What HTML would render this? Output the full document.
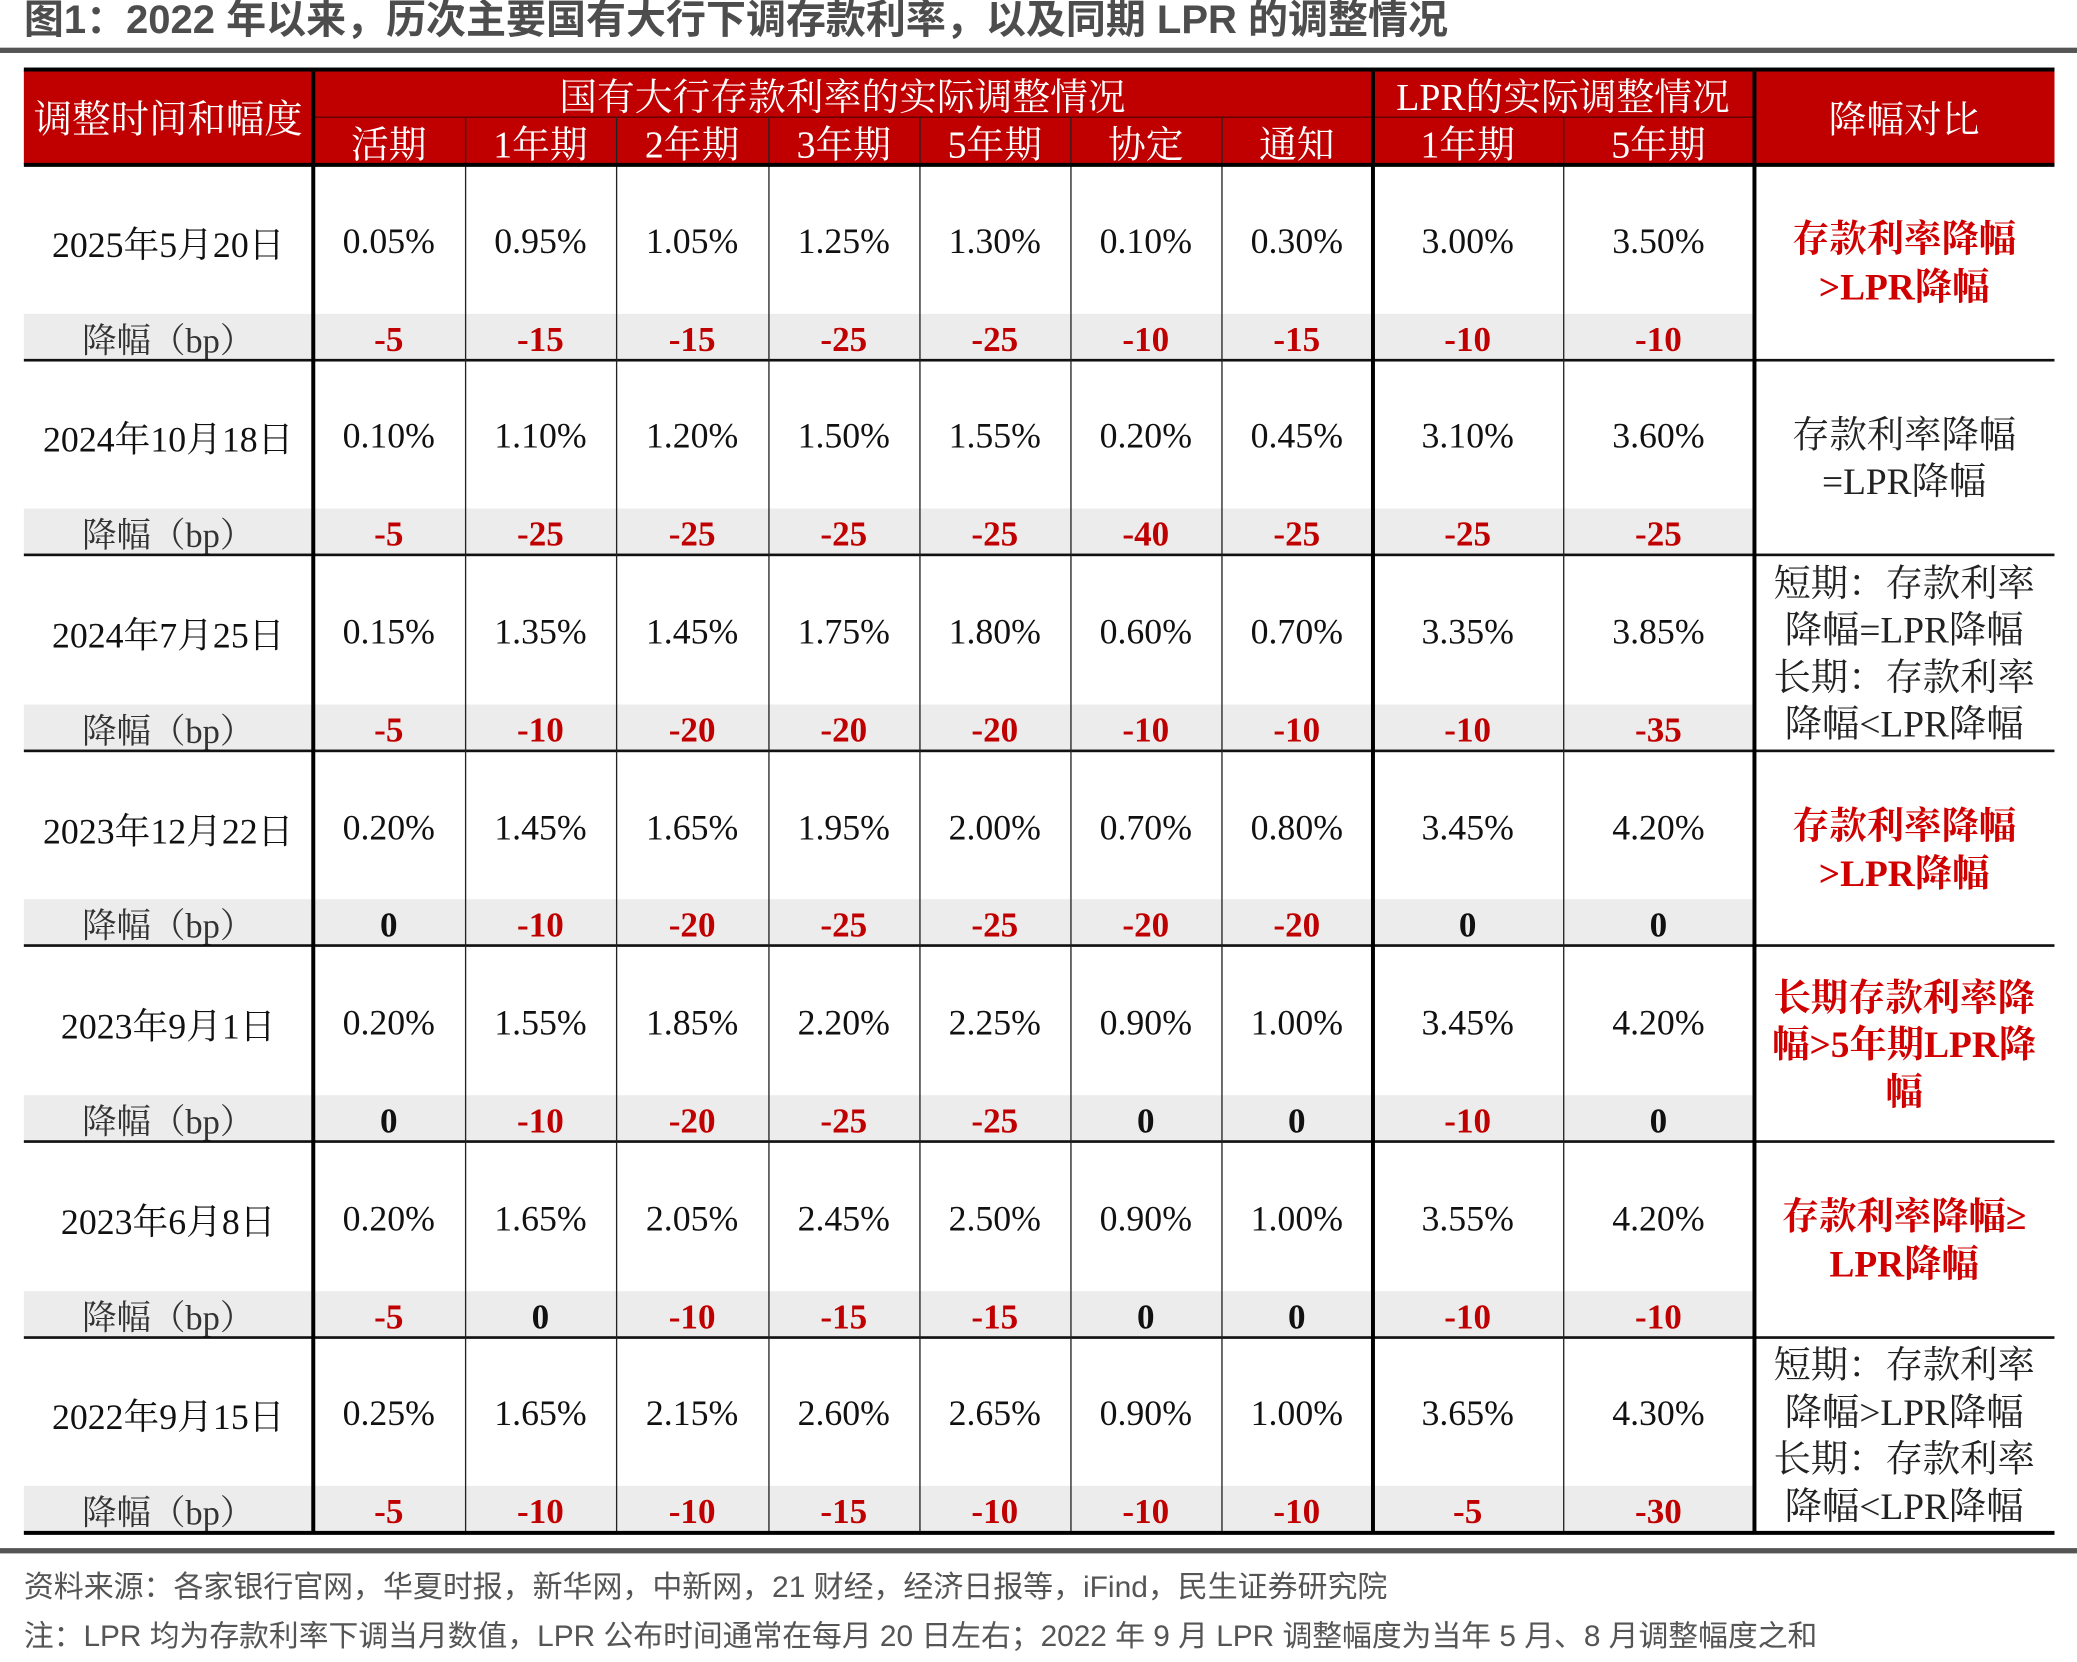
<!DOCTYPE html>
<html><head><meta charset="utf-8">
<style>
html,body{margin:0;padding:0;background:#fff;width:2077px;height:1662px;overflow:hidden}
#root{position:absolute;left:0;top:0;width:1568px;height:1255px;transform:scale(1.32462,1.3243);transform-origin:0 0;font-family:"Liberation Serif","Noto Serif CJK SC",serif}
.a{position:absolute;box-sizing:border-box}
.c{position:absolute;display:flex;align-items:center;justify-content:center;text-align:center;white-space:nowrap}
.hd{color:#fff;font-size:28.5px;font-family:"Liberation Serif","Noto Serif CJK SC",serif}
.v{font-size:27px;color:#111}
.bp{font-size:26.5px;font-weight:bold;color:#c00000}
.lbl{font-size:26px;color:#333}
.cmp{font-size:28.2px;line-height:35.5px;white-space:normal}
</style></head><body>
<div id="root">
<div class="a" style="left:18px;top:-4px;line-height:40px;font-family:'Liberation Sans','Noto Sans CJK SC',sans-serif;font-weight:bold;font-size:30.2px;color:#4d4d4d;white-space:nowrap">图1：2022 年以来，历次主要国有大行下调存款利率，以及同期 LPR 的调整情况</div>
<div class="a" style="left:0;top:36px;width:1568px;height:4px;background:#555"></div>
<div id="tbl"></div>
<div class="a" style="left:0;top:1169px;width:1568px;height:4px;background:#555"></div>
<div class="a" style="left:18px;top:1180px;font-family:'Liberation Sans','Noto Sans CJK SC',sans-serif;font-size:22.6px;color:#555;white-space:nowrap">资料来源：各家银行官网，华夏时报，新华网，中新网，21 财经，经济日报等，iFind，民生证券研究院</div>
<div class="a" style="left:18px;top:1218px;font-family:'Liberation Sans','Noto Sans CJK SC',sans-serif;font-size:22.5px;color:#555;white-space:nowrap">注：LPR 均为存款利率下调当月数值，LPR 公布时间通常在每月 20 日左右；2022 年 9 月 LPR 调整幅度为当年 5 月、8 月调整幅度之和</div>
</div>
<script>
const dates=["2025年5月20日","2024年10月18日","2024年7月25日","2023年12月22日","2023年9月1日","2023年6月8日","2022年9月15日"];
const rates=[
["0.05%","0.95%","1.05%","1.25%","1.30%","0.10%","0.30%","3.00%","3.50%"],
["0.10%","1.10%","1.20%","1.50%","1.55%","0.20%","0.45%","3.10%","3.60%"],
["0.15%","1.35%","1.45%","1.75%","1.80%","0.60%","0.70%","3.35%","3.85%"],
["0.20%","1.45%","1.65%","1.95%","2.00%","0.70%","0.80%","3.45%","4.20%"],
["0.20%","1.55%","1.85%","2.20%","2.25%","0.90%","1.00%","3.45%","4.20%"],
["0.20%","1.65%","2.05%","2.45%","2.50%","0.90%","1.00%","3.55%","4.20%"],
["0.25%","1.65%","2.15%","2.60%","2.65%","0.90%","1.00%","3.65%","4.30%"]];
const bps=[
[-5,-15,-15,-25,-25,-10,-15,-10,-10],
[-5,-25,-25,-25,-25,-40,-25,-25,-25],
[-5,-10,-20,-20,-20,-10,-10,-10,-35],
[0,-10,-20,-25,-25,-20,-20,0,0],
[0,-10,-20,-25,-25,0,0,-10,0],
[-5,0,-10,-15,-15,0,0,-10,-10],
[-5,-10,-10,-15,-10,-10,-10,-5,-30]];
const comps=[
"存款利率降幅<br>&gt;LPR降幅",
"存款利率降幅<br>=LPR降幅",
"短期：存款利率<br>降幅=LPR降幅<br>长期：存款利率<br>降幅&lt;LPR降幅",
"存款利率降幅<br>&gt;LPR降幅",
"长期存款利率降<br>幅&gt;5年期LPR降<br>幅",
"存款利率降幅≥<br>LPR降幅",
"短期：存款利率<br>降幅&gt;LPR降幅<br>长期：存款利率<br>降幅&lt;LPR降幅"];
const compRed=[true,false,false,true,true,true,false];
const subHeads=["活期","1年期","2年期","3年期","5年期","协定","通知","1年期","5年期"];
const colX=[18,236,351,465,580,694,808,922,1036,1180,1324,1551];
const top0=124, gh=147.6, bpH=35;
const T=document.getElementById('tbl');
function box(cls,x,y,w,h,html,style){const d=document.createElement('div');d.className=cls;d.style.left=x+'px';d.style.top=y+'px';d.style.width=w+'px';d.style.height=h+'px';if(html!=null)d.innerHTML=html;if(style)d.style.cssText+=style;T.appendChild(d);return d;}
let e=box('a',18,53,1533,71,null,'background:#c00000');


e=box('c hd',18,53,218,71,'调整时间和幅度','font-size:29px');


e=box('c hd',236,53,800,37,'国有大行存款利率的实际调整情况');


e=box('c hd',1036,53,288,37,'LPR的实际调整情况');


e=box('c hd',1324,53,227,71,'降幅对比');


e=box('a',236,88,1088,1,null,'background:#5a0000');


for(let j=0;j<9;j++){
 e=box('c hd',colX[j+1],89,colX[j+2]-colX[j+1],37,subHeads[j]);
 
 
}
for(let i=0;i<dates.length;i++){
 const y=top0+i*gh;
 e=box('a',18,y+gh-bpH,1306,bpH,null,'background:#ececec');
 
 
 e=box('c v',18,y+2,218,gh-bpH,dates[i]);
 
 
 e=box('c lbl',18,y+gh-bpH+1,218,bpH,'降幅（bp）');
 
 
 for(let j=0;j<9;j++){
  const x=colX[j+1],w=colX[j+2]-colX[j+1];
  e=box('c v',x,y+2,w,gh-bpH,rates[i][j]);
  
  
  const b=bps[i][j];
  e=box('c bp',x,y+gh-bpH+2,w,bpH,String(b),b===0?'color:#111':'');
  
  
 }
 e=box('c cmp',1324,y+2,227,gh,comps[i],compRed[i]?'color:#d00000;font-weight:bold':'color:#222');
 
 
 if(i>0){
  e=box('a',18,y-1,1533,2,null,'background:#111');
  
  
 }
}
const bottom=top0+7*gh;
for(let k=2;k<=10;k++){
 if(k===8) continue;
 e=box('a',colX[k]-0.5,88,1,bottom-88,null,'background:#222');
 
 
}
e=box('a',234.5,53,3,bottom-53,null,'background:#000');


e=box('a',1034.5,53,3,bottom-53,null,'background:#000');


e=box('a',1322.5,53,3,bottom-53,null,'background:#000');


e=box('a',18,51,1533,3,null,'background:#000');


e=box('a',18,122.5,1533,3,null,'background:#000');


e=box('a',18,bottom-1.5,1533,3,null,'background:#000');


</script>
</body></html>
